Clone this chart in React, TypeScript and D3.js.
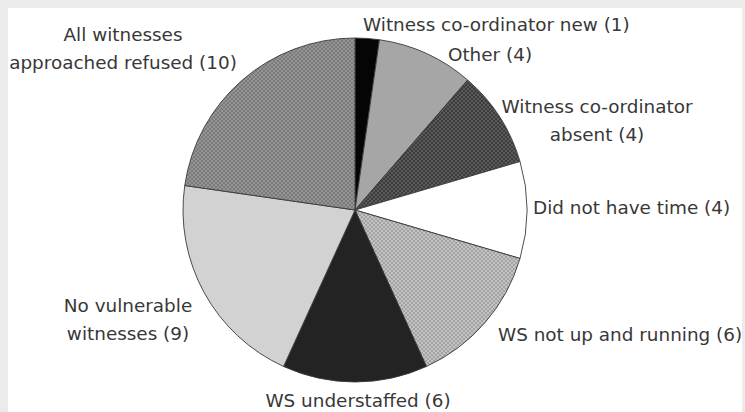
import React from "react";
import * as d3 from "d3";

const categories = [
  "Witness co-ordinator new (1)",
  "Other (4)",
  "Witness co-ordinator absent (4)",
  "Did not have time (4)",
  "WS not up and running (6)",
  "WS understaffed (6)",
  "No vulnerable witnesses (9)",
  "All witnesses approached refused (10)",
];
const counts = [1, 4, 4, 4, 6, 6, 9, 10];

// label lines (text only)
const labelLines = [
  ["Witness co-ordinator new (1)"],
  ["Other (4)"],
  ["Witness co-ordinator", "absent (4)"],
  ["Did not have time (4)"],
  ["WS not up and running (6)"],
  ["WS understaffed (6)"],
  ["No vulnerable", "witnesses (9)"],
  ["All witnesses", "approached refused (10)"],
];

// styling / layout (not data)
const W = 745;
const H = 412;
const CX = 355;
const CY = 210;
const R = 172;
const fills = [
  "#050505",
  "#a6a6a6",
  "url(#patDark)",
  "#ffffff",
  "url(#patLight)",
  "#232323",
  "#d2d2d2",
  "url(#patMid)",
];
// label anchor (baseline of first line) relative to pie centre
const labelLayout: { dx: number; dy: number; anchor: "start" | "middle" | "end" }[] = [
  { dx: 8, dy: -179, anchor: "start" },
  { dx: 135, dy: -149, anchor: "middle" },
  { dx: 242, dy: -97, anchor: "middle" },
  { dx: 178, dy: 4, anchor: "start" },
  { dx: 143, dy: 131, anchor: "start" },
  { dx: 3, dy: 197, anchor: "middle" },
  { dx: -227, dy: 102, anchor: "middle" },
  { dx: -232, dy: -169, anchor: "middle" },
];
const LINE_H = 28;

export default function App() {
  const pie = d3
    .pie<number>()
    .sort(null)
    .value((d) => d);
  const arcs = pie(counts);
  const arcGen = d3.arc<d3.PieArcDatum<number>>().innerRadius(0).outerRadius(R);

  return (
    <div style={{ position: "absolute", left: 0, top: 0 }}>
      <svg width={W} height={H} style={{ display: "block" }}>
        <defs>
          <pattern id="patMid" width="4" height="4" patternUnits="userSpaceOnUse">
            <rect width="4" height="4" fill="#959595" />
            <rect width="2" height="2" fill="#7a7a7a" />
            <rect x="2" y="2" width="2" height="2" fill="#7a7a7a" />
          </pattern>
          <pattern id="patDark" width="4" height="4" patternUnits="userSpaceOnUse">
            <rect width="4" height="4" fill="#5a5a5a" />
            <rect width="2" height="2" fill="#3c3c3c" />
            <rect x="2" y="2" width="2" height="2" fill="#3c3c3c" />
          </pattern>
          <pattern id="patLight" width="4" height="4" patternUnits="userSpaceOnUse">
            <rect width="4" height="4" fill="#c4c4c4" />
            <rect width="2" height="2" fill="#a2a2a2" />
            <rect x="2" y="2" width="2" height="2" fill="#a2a2a2" />
          </pattern>
        </defs>
        <rect x={0} y={0} width={W} height={H} fill="#ebebeb" />
        <rect x={8} y={8} width={W - 11} height={H - 8} fill="#ffffff" />
        <g transform={`translate(${CX},${CY})`}>
          {arcs.map((a, i) => (
            <path
              key={categories[i]}
              d={arcGen(a) || ""}
              fill={fills[i]}
              stroke="#3a3a3a"
              strokeWidth={0.9}
            />
          ))}
          {arcs.map((a, i) => {
            const L = labelLayout[i];
            const lines = labelLines[i];
            return (
              <text
                key={"l" + i}
                x={L.dx}
                y={L.dy}
                textAnchor={L.anchor}
                fontFamily="DejaVu Sans, sans-serif"
                fontSize={18.4}
                fill="#383838"
              >
                {lines.map((t, j) => (
                  <tspan key={j} x={L.dx} dy={j === 0 ? 0 : LINE_H}>
                    {t}
                  </tspan>
                ))}
              </text>
            );
          })}
        </g>
      </svg>
    </div>
  );
}
